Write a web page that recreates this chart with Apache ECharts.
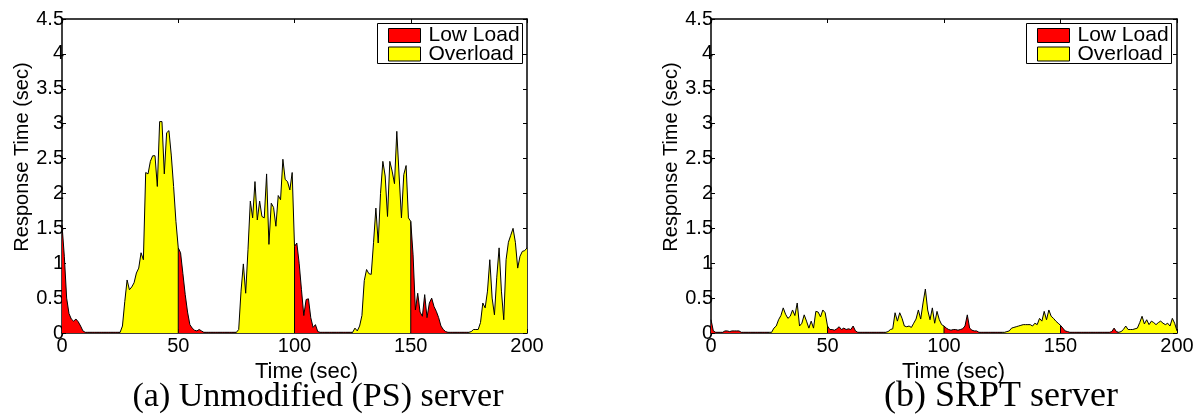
<!DOCTYPE html>
<html><head><meta charset="utf-8">
<script src="https://cdn.jsdelivr.net/npm/echarts@6/dist/echarts.min.js"></script>
<style>html,body{margin:0;padding:0;background:#fff}#c{width:1203px;height:417px}</style>
</head><body><div id="c"></div>
<script>
// Response time (sec) sampled every second, t = 0..200
const psResponse = [
  1.55,1.1,0.5,0.28,0.2,0.17,0.2,0.16,0.1,0.03,
  0.01,0.01,0.01,0.01,0.01,0.01,0.01,0.01,0.01,0.01,
  0.01,0.01,0.01,0.01,0.01,0.01,0.1,0.45,0.76,0.62,
  0.66,0.72,0.86,0.93,1.15,1.05,2.3,2.28,2.46,2.54,
  2.54,2.1,3.03,3.03,2.28,2.87,2.9,2.55,2.1,1.6,
  1.22,1.15,0.85,0.55,0.3,0.12,0.07,0.04,0.03,0.05,
  0.03,0.01,0.01,0.01,0.01,0.01,0.01,0.01,0.01,0.01,
  0.01,0.01,0.01,0.01,0.01,0.01,0.05,0.6,0.99,0.57,
  1.2,1.89,1.65,2.17,1.62,1.89,1.67,1.65,2.28,1.27,
  1.86,1.8,1.53,1.97,1.91,2.49,2.2,2.17,2.05,2.3,
  1.24,1.29,1.0,0.62,0.25,0.48,0.49,0.22,0.08,0.12,
  0.02,0.01,0.01,0.01,0.01,0.01,0.01,0.01,0.01,0.01,
  0.01,0.01,0.01,0.01,0.01,0.01,0.07,0.03,0.1,0.25,
  0.75,0.91,0.85,0.84,1.3,1.79,1.29,2.0,2.46,2.25,
  1.67,2.46,2.32,2.14,2.89,2.25,1.65,2.27,2.4,1.65,
  1.6,1.12,0.33,0.57,0.3,0.24,0.55,0.22,0.43,0.5,
  0.38,0.31,0.22,0.1,0.05,0.02,0.01,0.01,0.01,0.01,
  0.01,0.01,0.01,0.01,0.01,0.01,0.02,0.05,0.05,0.05,
  0.15,0.43,0.36,0.6,1.05,0.5,0.26,0.8,1.22,0.6,
  0.19,1.05,1.3,1.4,1.5,1.3,0.93,1.1,1.17,1.18,
  1.22
];
const srptResponse = [
  0.19,0.03,0.01,0.01,0.01,0.01,0.03,0.03,0.02,0.03,
  0.03,0.03,0.03,0.01,0.01,0.01,0.01,0.01,0.01,0.01,
  0.01,0.01,0.01,0.01,0.01,0.01,0.01,0.07,0.1,0.19,
  0.25,0.36,0.27,0.21,0.24,0.33,0.25,0.43,0.1,0.14,
  0.26,0.17,0.07,0.17,0.07,0.31,0.3,0.23,0.33,0.29,
  0.1,0.05,0.05,0.04,0.06,0.09,0.05,0.07,0.05,0.06,
  0.05,0.1,0.03,0.01,0.01,0.01,0.01,0.01,0.01,0.01,
  0.01,0.01,0.01,0.01,0.01,0.01,0.02,0.05,0.06,0.29,
  0.17,0.29,0.21,0.1,0.09,0.1,0.08,0.14,0.2,0.33,
  0.2,0.43,0.63,0.33,0.19,0.36,0.14,0.31,0.19,0.12,
  0.1,0.07,0.05,0.04,0.05,0.05,0.04,0.05,0.06,0.1,
  0.26,0.07,0.04,0.03,0.03,0.01,0.01,0.01,0.01,0.01,
  0.01,0.01,0.01,0.01,0.01,0.01,0.01,0.02,0.03,0.07,
  0.08,0.09,0.1,0.11,0.12,0.12,0.12,0.12,0.1,0.14,
  0.12,0.21,0.17,0.31,0.19,0.33,0.24,0.21,0.17,0.14,
  0.11,0.07,0.03,0.02,0.01,0.01,0.01,0.01,0.01,0.01,
  0.01,0.01,0.01,0.01,0.01,0.01,0.01,0.01,0.01,0.01,
  0.01,0.01,0.02,0.07,0.02,0.01,0.02,0.05,0.1,0.05,
  0.05,0.05,0.06,0.07,0.15,0.24,0.13,0.19,0.12,0.17,
  0.15,0.12,0.15,0.17,0.14,0.12,0.14,0.1,0.21,0.14,
  0.03
];
// phase boundaries (sec) and phase type for each interval
const phaseBounds = [0, 25, 50, 75, 100, 125, 150, 175, 200];
const phaseTypes = ['Low Load','Overload','Low Load','Overload','Low Load','Overload','Low Load','Overload'];
const legendNames = ['Low Load', 'Overload'];
const captions = ['(a) Unmodified (PS) server', '(b) SRPT server'];
const xName = 'Time (sec)';
const yName = 'Response Time (sec)';

const FONT = '"Liberation Sans", Arial, Helvetica, sans-serif';
const SERIF = '"Liberation Serif", "Times New Roman", serif';
const fill = {'Low Load': '#ff0000', 'Overload': '#ffff00'};

const charts = [
  {values: psResponse, grid: {left: 62, top: 19, width: 465, height: 314}, legendLeft: 388, capX: 318, capSize: 34, xPad: 24},
  {values: srptResponse, grid: {left: 711, top: 19, width: 466, height: 314}, legendLeft: 1037, capX: 1001, capSize: 36, xPad: 19}
];
const legendTops = [25, 43.5];

const grids = [], xAxes = [], yAxes = [], series = [], legends = [], graphics = [];
const axisLineStyle = {color: '#000', width: 1.5};

charts.forEach((c, gi) => {
  grids.push(Object.assign({containLabel: false}, c.grid));
  ['bottom', 'top'].forEach(pos => {
    xAxes.push({
      type: 'value', gridIndex: gi, position: pos, min: 0, max: 200, interval: 50,
      axisLine: {show: true, onZero: false, lineStyle: axisLineStyle},
      axisTick: {show: true, inside: true, length: 4, lineStyle: {color: '#000', width: 1}},
      axisLabel: {show: pos === 'bottom', margin: 3, fontSize: 20, fontFamily: FONT, color: '#000'},
      splitLine: {show: false},
      name: pos === 'bottom' ? xName : '',
      nameLocation: 'middle', nameGap: 15,
      nameTextStyle: {fontSize: 22, fontFamily: FONT, color: '#000', padding: [0, 0, 0, c.xPad]}
    });
  });
  ['left', 'right'].forEach(pos => {
    yAxes.push({
      type: 'value', gridIndex: gi, position: pos, min: 0, max: 4.5, interval: 0.5,
      axisLine: {show: true, onZero: false, lineStyle: axisLineStyle},
      axisTick: {show: true, inside: true, length: 4, lineStyle: {color: '#000', width: 1}},
      axisLabel: {show: pos === 'left', margin: -2, fontSize: 20, fontFamily: FONT, color: '#000'},
      splitLine: {show: false},
      name: pos === 'left' ? yName : '',
      nameLocation: 'middle', nameGap: 27, nameRotate: 90,
      nameTextStyle: {fontSize: 20, fontFamily: FONT, color: '#000', padding: [0, 0, 0, 38]}
    });
  });
  const xi = gi * 2, yi = gi * 2;
  // filled phases
  for (let p = 0; p < phaseTypes.length; p++) {
    const data = [];
    for (let t = phaseBounds[p]; t <= phaseBounds[p + 1]; t++) data.push([t, c.values[t]]);
    series.push({
      type: 'line', name: phaseTypes[p], xAxisIndex: xi, yAxisIndex: yi,
      data: data, showSymbol: false, symbol: 'none', z: 2,
      lineStyle: {color: '#000', width: 1},
      itemStyle: {color: fill[phaseTypes[p]]},
      areaStyle: {color: fill[phaseTypes[p]], opacity: 1}
    });
  }
  // vertical patch edges at phase boundaries
  for (let p = 1; p < phaseBounds.length - 1; p++) {
    const b = phaseBounds[p];
    series.push({
      type: 'line', name: 'edge', xAxisIndex: xi, yAxisIndex: yi, silent: true,
      data: [[b, 0], [b, c.values[b]]], showSymbol: false, symbol: 'none', z: 3,
      lineStyle: {color: '#000', width: 1}
    });
  }
  legendNames.forEach((n, li) => {
    legends.push({
      left: c.legendLeft, top: legendTops[li], orient: 'vertical', itemWidth: 32, itemHeight: 14,
      selectedMode: false, z: 5, padding: 0,
      textStyle: {fontSize: 21, fontFamily: FONT, color: '#000', lineHeight: 14, padding: [0, 0, 2, 3]},
      data: [{name: n, icon: 'rect', itemStyle: {color: fill[n], borderColor: '#000', borderWidth: 1}}]
    });
  });
  graphics.push({
    type: 'rect', z: 4, shape: {x: c.legendLeft - 10.5, y: 23.5, width: 145, height: 40},
    style: {fill: '#fff', stroke: '#000', lineWidth: 1}
  });
  graphics.push({
    type: 'text', x: c.capX, y: 397, z: 5,
    style: {text: captions[gi], font: c.capSize + 'px ' + SERIF, fill: '#000', align: 'center', verticalAlign: 'middle',
            textAlign: 'center', textVerticalAlign: 'middle'}
  });
});

const chart = echarts.init(document.getElementById('c'), null, {renderer: 'canvas'});
chart.setOption({
  animation: false,
  backgroundColor: '#fff',
  grid: grids, xAxis: xAxes, yAxis: yAxes, series: series, legend: legends, graphic: graphics
});
</script>
</body></html>
